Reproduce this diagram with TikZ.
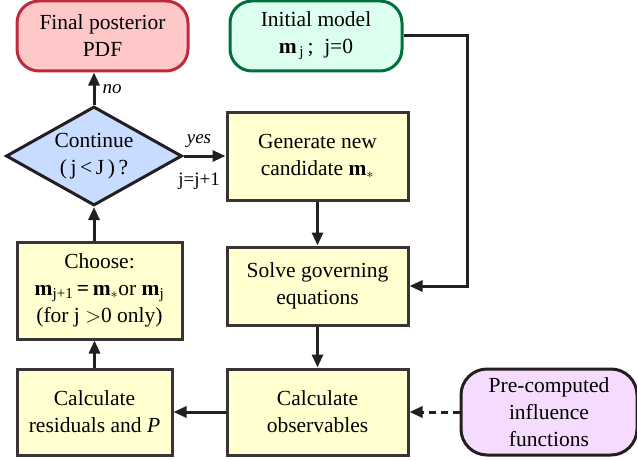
\documentclass[tikz,border=0pt]{standalone}
\usepackage{fontspec}
\setmainfont{Liberation Serif}
\usetikzlibrary{shapes.geometric,arrows.meta}
\definecolor{finfill}{HTML}{FFC8C8}
\definecolor{findraw}{HTML}{C0283C}
\definecolor{inifill}{HTML}{DCFFF0}
\definecolor{inidraw}{HTML}{00703C}
\definecolor{decfill}{HTML}{C8DCFF}
\definecolor{boxfill}{HTML}{FFFFD0}
\definecolor{prefill}{HTML}{F5DCFF}
\definecolor{linec}{HTML}{231F20}
\tikzset{
  base/.style={line width=3pt, font=\fontsize{21.5}{27}\selectfont, align=center, inner sep=0pt},
  procbox/.style={base, draw=linec!90, fill=boxfill, rectangle},
  termbox/.style={base, rectangle, rounded corners=22pt},
  conn/.style={line width=3pt, draw=linec, -{Triangle[length=13pt,width=11pt]}},
  lbl/.style={font=\fontsize{19}{22}\selectfont, inner sep=0pt}
}
\begin{document}
\begin{tikzpicture}[x=1pt,y=-1pt]
\useasboundingbox (0,0) rectangle (637,460);
\node[termbox, draw=findraw, fill=finfill, minimum width=171pt, minimum height=70pt] (final) at (102.5,36) {Final posterior\\PDF};
\node[termbox, draw=inidraw, fill=inifill, minimum width=172pt, minimum height=70pt] (init) at (316,36) {Initial model\\\textbf{m}\textsubscript{\,j}\,;\ \ j=0};
\node[base, diamond, draw=linec, fill=decfill, minimum width=176pt, minimum height=99pt] (cont) at (94,156) {};
\node[base] (conttext) at (94,156) {Continue\\(\,j\,<\,J\,)\,?};
\node[procbox, minimum width=181pt, minimum height=88pt] (gen) at (317.5,156) {Generate new\\candidate \textbf{m}$_{*}$};
\node[procbox, minimum width=181pt, minimum height=78pt] (solve) at (317.5,286) {Solve governing\\equations};
\node[procbox, minimum width=181pt, minimum height=86pt] (obs) at (317.5,412) {Calculate\\observables};
\node[termbox, draw=linec, fill=prefill, minimum width=176pt, minimum height=86pt, rounded corners=26pt] (pre) at (549,412) {Pre-computed\\influence\\functions};
\node[procbox, minimum width=155pt, minimum height=86pt] (res) at (94.5,412) {Calculate\\residuals and \textit{P}};
\node[procbox, minimum width=165pt, minimum height=97pt] (choose) at (99.5,290.5) {Choose:\\\textbf{m}\textsubscript{j+1}\,\textbf{=}\,\textbf{m}$_{*}$or \textbf{m}\textsubscript{j}\\(for j $>$0 only)};
\coordinate (corner) at (467,36);
\draw[conn] (cont.north) -- (cont.north |- final.south) node[lbl, midway, right=7pt] {\textit{no}};
\draw[conn] (cont.east) -- (gen.west);
\node[lbl] (yes) at (199,141) {\textit{yes}};
\node[lbl] (jinc) at (199,181) {j=j+1};
\draw[conn] (init.east) -- (corner) |- (solve.east);
\draw[conn] (gen.south) -- (solve.north);
\draw[conn] (solve.south) -- (obs.north);
\draw[conn, dash pattern=on 7pt off 5pt] (pre.west) -- (obs.east);
\draw[conn] (obs.west) -- (res.east);
\draw[conn] (res.north) -- (res.north |- choose.south);
\draw[conn] (cont.south |- choose.north) -- (cont.south);
\end{tikzpicture}
\end{document}
